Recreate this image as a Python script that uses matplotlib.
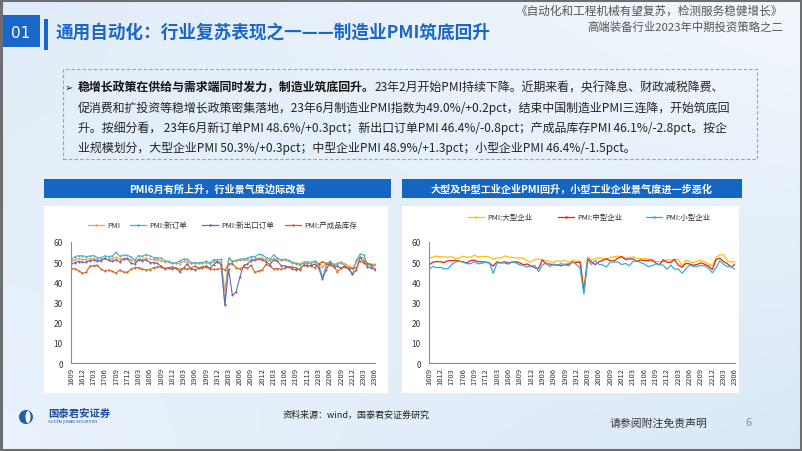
import numpy as np
import pandas as pd
import matplotlib
matplotlib.use("Agg")
import matplotlib.pyplot as plt
from matplotlib.patches import Rectangle, Ellipse
from matplotlib.lines import Line2D

plt.rcParams['font.family'] = ['Noto Sans CJK SC', 'DejaVu Sans']

# ---- data (monthly, 2016-09 .. 2023-06) ----
months = pd.period_range('2016-09', '2023-06', freq='M')
month_labels = [m.strftime('%y%m') for m in months]

pmi = [50.4, 51.2, 51.7, 51.4,
       51.3, 51.6, 51.8, 51.2, 51.2, 51.7, 51.4, 51.7, 52.4, 51.6, 51.8, 51.6,
       51.3, 50.3, 51.5, 51.4, 51.9, 51.5, 51.2, 51.3, 50.8, 50.2, 50.0, 49.4,
       49.5, 49.2, 50.5, 50.1, 49.4, 49.4, 49.7, 49.5, 49.8, 49.3, 50.2, 50.2,
       50.0, 35.7, 52.0, 50.8, 50.6, 50.9, 51.1, 51.0, 51.5, 51.4, 52.1, 51.9,
       51.3, 50.6, 51.9, 51.1, 51.0, 50.9, 50.4, 50.1, 49.6, 49.2, 50.1, 50.3,
       50.1, 50.2, 49.5, 47.4, 49.6, 50.2, 49.0, 49.4, 50.1, 49.2, 48.0, 47.0,
       50.1, 52.6, 51.9, 49.2, 48.8, 49.0]
new_orders = [50.9, 52.8, 53.2, 53.2,
              52.8, 53.0, 53.3, 52.3, 52.3, 53.1, 52.8, 53.1, 54.8, 52.9, 53.6, 53.4,
              52.6, 51.0, 53.3, 52.9, 53.8, 53.2, 52.3, 52.2, 52.0, 50.8, 50.4, 49.7,
              49.6, 50.6, 51.6, 51.4, 49.8, 49.6, 49.8, 49.7, 50.5, 49.6, 51.3, 51.2,
              51.4, 29.3, 52.0, 50.2, 50.9, 51.4, 51.7, 52.0, 52.8, 52.8, 53.9, 53.6,
              52.3, 51.5, 53.6, 52.0, 51.3, 51.5, 50.9, 49.6, 49.3, 48.8, 49.4, 49.7,
              49.3, 50.7, 48.8, 42.6, 48.2, 50.4, 48.5, 49.2, 49.8, 48.1, 46.4, 43.9,
              50.9, 54.1, 53.6, 48.8, 48.3, 48.6]
new_export = [49.2, 49.7, 50.3, 50.1,
              49.9, 50.8, 51.0, 50.6, 50.7, 52.0, 50.9, 50.4, 51.3, 50.1, 51.5, 51.9,
              49.5, 49.0, 51.3, 50.7, 51.2, 49.8, 49.8, 49.4, 48.0, 46.9, 47.0, 46.6,
              46.9, 45.2, 47.1, 49.2, 46.5, 46.3, 46.9, 47.2, 48.2, 47.0, 48.8, 50.3,
              48.7, 28.7, 46.4, 33.5, 35.3, 42.6, 48.4, 49.1, 50.8, 51.0, 51.5, 51.3,
              50.2, 48.8, 51.2, 50.4, 48.3, 48.1, 47.7, 46.7, 46.2, 46.6, 48.5, 48.1,
              48.4, 49.0, 47.2, 41.6, 46.2, 49.5, 47.4, 48.1, 47.0, 47.6, 46.7, 44.2,
              46.1, 52.4, 50.4, 47.6, 47.2, 46.4]
inventory = [46.7, 46.8, 45.8, 44.5,
             44.9, 48.0, 48.3, 48.5, 46.5, 45.6, 46.1, 45.5, 44.6, 46.1, 45.1, 45.0,
             46.5, 47.3, 47.3, 46.6, 46.2, 46.3, 47.3, 47.7, 47.8, 46.7, 47.3, 47.7,
             47.1, 46.4, 47.0, 46.5, 47.1, 48.1, 47.1, 47.8, 47.5, 46.7, 46.4, 46.4,
             47.1, 46.1, 49.1, 49.3, 47.3, 46.8, 47.6, 47.1, 48.4, 44.9, 45.7, 46.2,
             49.0, 48.0, 46.7, 46.8, 46.5, 47.1, 47.6, 47.7, 47.2, 46.3, 48.5, 48.5,
             48.0, 47.3, 48.9, 50.3, 49.3, 48.6, 48.0, 45.2, 47.3, 48.0, 47.1, 47.0,
             47.2, 50.6, 49.5, 49.4, 48.9, 46.1]

large = [52.0, 52.5, 53.0, 52.7,
         52.6, 52.4, 52.7, 51.8, 51.9, 52.9, 52.4, 52.5, 53.4, 52.6, 52.9, 52.8,
         52.5, 51.4, 52.2, 52.0, 53.1, 52.6, 52.3, 52.1, 52.1, 52.0, 50.6, 50.1,
         51.3, 51.5, 51.1, 50.8, 50.3, 49.9, 50.7, 50.3, 50.9, 49.9, 50.9, 50.6,
         50.4, 36.5, 52.6, 51.1, 51.6, 52.1, 52.0, 51.6, 52.5, 52.6, 53.0, 52.7,
         52.1, 52.2, 52.7, 51.7, 51.8, 51.7, 51.7, 50.3, 50.4, 50.3, 50.2, 51.3,
         51.0, 51.3, 51.3, 48.1, 51.0, 50.2, 49.8, 50.5, 51.1, 50.1, 49.1, 48.3,
         52.3, 53.7, 53.6, 50.6, 50.0, 50.3]
medium = [48.6, 50.0, 50.3, 50.2,
          49.8, 50.7, 50.7, 50.9, 50.5, 50.2, 49.6, 50.8, 51.0, 50.3, 50.2, 50.0,
          49.5, 48.1, 50.2, 49.7, 50.2, 49.6, 50.0, 50.2, 49.7, 48.7, 49.1, 48.1,
          47.2, 46.9, 51.1, 49.1, 49.1, 48.6, 48.7, 48.2, 49.0, 49.0, 49.9, 49.8,
          50.1, 35.5, 51.6, 50.2, 48.8, 50.2, 50.9, 51.7, 50.7, 50.6, 52.0, 52.7,
          51.4, 51.6, 51.6, 50.3, 51.1, 50.8, 50.8, 51.2, 49.7, 48.6, 51.2, 50.0,
          49.9, 51.4, 48.5, 47.5, 49.4, 49.1, 48.5, 48.9, 49.7, 48.9, 48.1, 46.4,
          51.3, 52.0, 50.3, 49.2, 47.6, 48.9]
small = [46.3, 47.9, 47.3, 47.4,
         46.7, 46.8, 48.8, 50.1, 50.5, 50.0, 49.3, 49.2, 50.3, 49.2, 49.4, 50.1,
         49.8, 44.5, 49.6, 49.6, 49.6, 49.0, 50.1, 49.6, 48.7, 48.4, 47.6, 48.1,
         48.4, 45.3, 48.6, 49.8, 47.8, 49.1, 48.4, 49.3, 48.6, 48.2, 50.3, 48.8,
         47.0, 34.1, 50.9, 48.8, 50.8, 48.9, 48.6, 47.7, 50.1, 50.1, 50.1, 48.8,
         49.4, 48.2, 50.4, 50.8, 49.8, 49.1, 47.8, 48.2, 49.1, 48.9, 48.5, 46.5,
         48.6, 46.5, 46.6, 44.5, 46.7, 48.6, 47.9, 48.0, 48.3, 48.2, 47.0, 44.7,
         47.2, 50.8, 48.9, 47.8, 47.9, 46.4]

left_series = [('PMI', pmi, '#F5A04A'), ('PMI:新订单', new_orders, '#4FB3C8'),
               ('PMI:新出口订单', new_export, '#6F66B0'), ('PMI:产成品库存', inventory, '#D0651E')]
right_series = [('PMI:大型企业', large, '#FFC000'), ('PMI:中型企业', medium, '#E5231E'),
                ('PMI:小型企业', small, '#35ACE0')]

W, H = 802, 452
fig = plt.figure(figsize=(W / 100, H / 100), dpi=100)


def fx(x):
    return x / W


def fy(y):
    return 1 - y / H


# background gradient
bg = fig.add_axes([0, 0, 1, 1], zorder=-10)
gx = np.linspace(0, 1, 200)
gy = np.linspace(0, 1, 120)
X, Y = np.meshgrid(gx, gy)
t = np.clip(0.55 * (1 - X) * (1 - Y) + 0.5 * X * Y + 0.25 * Y, 0, 1)
c0 = np.array([0.95, 0.97, 0.99])
c1 = np.array([0.82, 0.89, 0.96])
img = c0[None, None, :] * (1 - t[..., None]) + c1[None, None, :] * t[..., None]
bg.imshow(img, aspect='auto', extent=[0, 1, 0, 1], origin='upper')
bg.set_axis_off()
fig.patches.append(Rectangle((0.001, 0.002), 0.998, 0.996, transform=fig.transFigure,
                             fill=False, edgecolor='#6b6f74', linewidth=2.2, zorder=5))

# header
fig.patches.append(Rectangle((fx(3), fy(48)), fx(37), 32 / H, transform=fig.transFigure,
                             facecolor='#1B66C9', edgecolor='none'))
fig.text(fx(21), fy(33), '01', color='white', fontsize=11, ha='center', va='center',
         family='DejaVu Sans')
fig.patches.append(Rectangle((fx(44), fy(51)), fx(4), 31 / H, transform=fig.transFigure,
                             facecolor='#1B66C9', edgecolor='none'))
fig.text(fx(56), fy(33), '通用自动化：行业复苏表现之一——制造业PMI筑底回升', color='#1B66C9',
         fontsize=12.7, fontweight='bold', ha='left', va='center')
fig.text(fx(783), fy(11), '《自动化和工程机械有望复苏，检测服务稳健增长》', color='#555555',
         fontsize=8.4, ha='right', va='center')
fig.text(fx(783), fy(27), '高端装备行业2023年中期投资策略之二', color='#555555',
         fontsize=8.2, ha='right', va='center')

# text box
fig.patches.append(Rectangle((fx(63), fy(160)), fx(694), 90 / H, transform=fig.transFigure,
                             fill=False, edgecolor='#9aa3ad', linewidth=0.8, linestyle=(0, (3, 2))))
fig.text(fx(65), fy(88), '➢', fontsize=7, ha='left', va='center', color='#222222',
         family=['DejaVu Sans'])
fs = 8.6
renderer = fig.canvas.get_renderer()
t_bold = fig.text(fx(78), fy(88), '稳增长政策在供给与需求端同时发力，制造业筑底回升。', fontsize=fs,
                  fontweight='bold', ha='left', va='center', color='#111111')
bb = t_bold.get_window_extent(renderer=renderer)
fig.text(bb.x1 / W, fy(88), '23年2月开始PMI持续下降。近期来看，央行降息、财政减税降费、',
         fontsize=fs, ha='left', va='center', color='#222222')
body = ['促消费和扩投资等稳增长政策密集落地，23年6月制造业PMI指数为49.0%/+0.2pct，结束中国制造业PMI三连降，开始筑底回',
        '升。按细分看， 23年6月新订单PMI 48.6%/+0.3pct；新出口订单PMI 46.4%/-0.8pct；产成品库存PMI 46.1%/-2.8pct。按企',
        '业规模划分，大型企业PMI 50.3%/+0.3pct；中型企业PMI 48.9%/+1.3pct；小型企业PMI 46.4%/-1.5pct。']
for i, line in enumerate(body):
    fig.text(fx(78), fy(108 + 20 * i), line, fontsize=fs, ha='left', va='center', color='#222222')


def chart(x0, x1, ax_left, ax_right, title, series, legend_x, legend_y, markers):
    # header bar and panel
    fig.patches.append(Rectangle((fx(x0), fy(199)), fx(x1 - x0), 19 / H, transform=fig.transFigure,
                                 facecolor='#1466C2', edgecolor='none', zorder=0.5))
    fig.text(fx((x0 + x1) / 2), fy(189.5), title, color='white', fontsize=7.3, fontweight='bold',
             ha='center', va='center')
    fig.patches.append(Rectangle((fx(x0), fy(394)), fx(x1 - x0 - 3), 187 / H, transform=fig.transFigure,
                                 facecolor='white', edgecolor='none', zorder=0.5))
    ax = fig.add_axes([fx(ax_left), fy(364), fx(ax_right - ax_left), (364 - 243) / H], zorder=3)
    ax.set_facecolor('none')
    x = np.arange(len(month_labels))
    for (name, vals, col), lx in zip(series, legend_x):
        if markers:
            ax.plot(x, vals, color=col, lw=0.8, marker='o', ms=1.5, mew=0)
        else:
            ax.plot(x, vals, color=col, lw=0.9)
        # legend entry
        fig.add_artist(Line2D([fx(lx), fx(lx + 16)], [fy(legend_y)] * 2, color=col, lw=0.9,
                              transform=fig.transFigure, zorder=4))
        fig.add_artist(Line2D([fx(lx + 8)], [fy(legend_y)], color=col, marker='o', ms=1.8, mew=0,
                              transform=fig.transFigure, zorder=4))
        fig.text(fx(lx + 19), fy(legend_y), name, fontsize=5.4, color='#333333',
                 ha='left', va='center', zorder=4)
    ax.set_xlim(0, len(x) - 1)
    ax.set_ylim(0, 60)
    ax.set_yticks(range(0, 61, 10))
    ax.set_xticks(x[::3])
    ax.set_xticklabels(month_labels[::3], rotation=90, fontsize=5.5, color='#333333')
    ax.tick_params(axis='y', labelsize=6, colors='#333333', length=0, pad=6)
    ax.tick_params(axis='x', length=0, pad=3)
    for s in ['top', 'right']:
        ax.spines[s].set_visible(False)
    for s in ['left', 'bottom']:
        ax.spines[s].set_color('#8c8c8c')
        ax.spines[s].set_linewidth(0.8)
    return ax


chart(44, 391, 71, 375, 'PMI6月有所上升，行业景气度边际改善', left_series,
      [88, 130, 202, 285], 226, True)
chart(402, 742, 429, 735, '大型及中型工业企业PMI回升，小型工业企业景气度进一步恶化', right_series,
      [468, 558, 646], 218, False)

# footer
fig.patches.append(Ellipse((fx(26), fy(418)), 14 / W, 14 / H, transform=fig.transFigure,
                           facecolor='#1F5FAE', edgecolor='none'))
fig.patches.append(Ellipse((fx(28), fy(418)), 5 / W, 12 / H, transform=fig.transFigure,
                           facecolor='white', edgecolor='none'))
fig.text(fx(48), fy(414), '国泰君安证券', color='#1F4F9E', fontsize=7.5, fontweight='bold',
         ha='left', va='center')
fig.text(fx(48), fy(422.5), 'GUOTAI JUNAN SECURITIES', color='#1F4F9E', fontsize=2.6,
         ha='left', va='center', family='DejaVu Sans')
fig.text(fx(283), fy(415), '资料来源：wind，国泰君安证券研究', color='#222222', fontsize=6.5,
         ha='left', va='center')
fig.text(fx(610), fy(423), '请参阅附注免责声明', color='#333333', fontsize=7.8,
         ha='left', va='center')
fig.text(fx(748), fy(423), '6', color='#8a8a8a', fontsize=7.8, ha='center', va='center')

fig.savefig('out.png', dpi=100)
